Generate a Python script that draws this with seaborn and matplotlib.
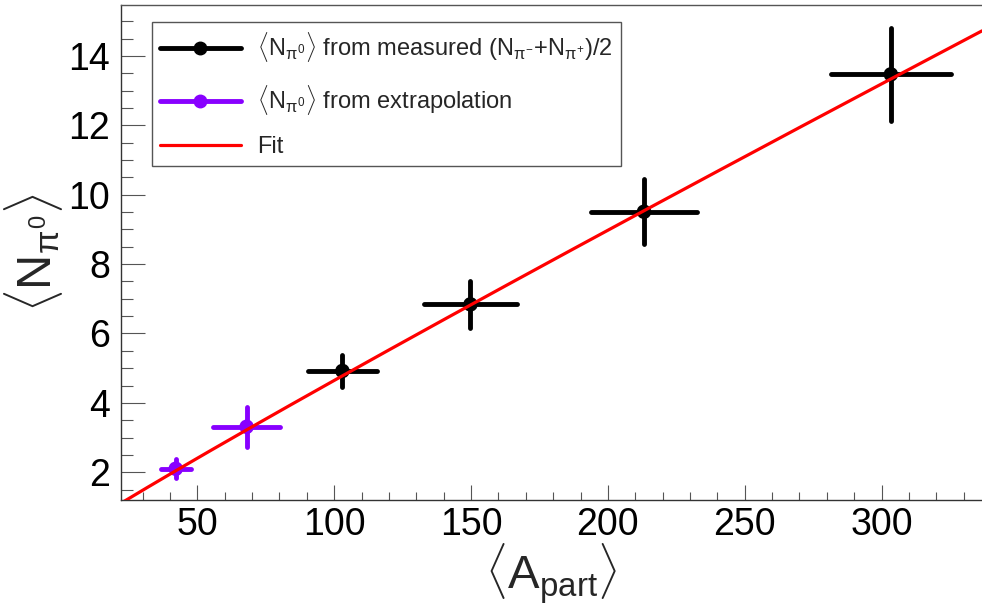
import numpy as np
import pandas as pd
import matplotlib
matplotlib.use("Agg")
import matplotlib.pyplot as plt
from matplotlib.lines import Line2D
from matplotlib.ticker import MultipleLocator
import seaborn as sns

# ---- data ----
meas_x = [103.0, 149.8, 213.2, 303.4]
meas_y = [4.92, 6.84, 9.51, 13.47]
meas_xerr = [12.7, 16.9, 19.5, 21.9]
meas_yerr = [0.47, 0.67, 0.93, 1.33]

extr_x = [42.1, 68.0]
extr_y = [2.10, 3.31]
extr_xerr = [5.4, 12.2]
extr_yerr = [0.27, 0.58]

# fit parameters: y = a * x^b
fit_a = 0.0585
fit_b = 0.95

x_ticks = [50, 100, 150, 200, 250, 300]
y_ticks = [2, 4, 6, 8, 10, 12, 14]

label_meas = r'$\langle$N$_{\pi^{0}}\rangle$ from measured (N$_{\pi^{-}}$+N$_{\pi^{+}}$)/2'
label_extr = r'$\langle$N$_{\pi^{0}}\rangle$ from extrapolation'
label_fit = 'Fit'

BLACK = '#000000'
PURPLE = '#8800ff'
RED = '#ff0000'
FRAME = '#555555'

sns.set_style("ticks")
plt.rcParams['font.family'] = ['Liberation Sans', 'DejaVu Sans']
plt.rcParams['mathtext.fontset'] = 'custom'
plt.rcParams['mathtext.rm'] = 'Liberation Sans'
plt.rcParams['mathtext.it'] = 'Liberation Sans'
plt.rcParams['mathtext.bf'] = 'Liberation Sans:bold'
plt.rcParams['mathtext.sf'] = 'Liberation Sans'

fig = plt.figure(figsize=(9.82, 6.09), dpi=100)
ax = fig.add_axes([121/982, 109/609, 1 - 121/982, 495/609])

xmin, xmax = 22.1, 336.7
ymin, ymax = 1.20, 15.47

# fit curve
fx = np.linspace(xmin, xmax, 300)
fit_df = pd.DataFrame({'x': fx, 'y': fit_a * fx ** fit_b})

meas_df = pd.DataFrame({'x': meas_x, 'y': meas_y})
extr_df = pd.DataFrame({'x': extr_x, 'y': extr_y})

for xs, ys, xe, ye, c in [(meas_x, meas_y, meas_xerr, meas_yerr, BLACK),
                          (extr_x, extr_y, extr_xerr, extr_yerr, PURPLE)]:
    eb = ax.errorbar(xs, ys, xerr=xe, yerr=ye, fmt='none', ecolor=c,
                     elinewidth=3.5, capsize=0, zorder=2)
    for lc in eb[2]:
        lc.set_capstyle('round')

sns.lineplot(data=fit_df, x='x', y='y', ax=ax, color=RED, lw=2.3,
             zorder=4, legend=False)
sns.scatterplot(data=meas_df, x='x', y='y', ax=ax, color=BLACK, s=110,
                edgecolor='none', zorder=3, legend=False)
sns.scatterplot(data=extr_df, x='x', y='y', ax=ax, color=PURPLE, s=110,
                edgecolor='none', zorder=3, legend=False)

ax.set_xlim(xmin, xmax)
ax.set_ylim(ymin, ymax)
ax.set_xticks(x_ticks)
ax.set_yticks(y_ticks)
ax.xaxis.set_minor_locator(MultipleLocator(10))
ax.yaxis.set_minor_locator(MultipleLocator(0.5))

ax.tick_params(axis='both', which='both', direction='in', colors=FRAME,
               labelcolor='black', width=0.8, top=False, right=False)
ax.tick_params(axis='x', which='major', length=10.8, labelsize=27, pad=5)
ax.tick_params(axis='x', which='minor', length=5.8)
ax.tick_params(axis='y', which='major', length=17.3, labelsize=27, pad=8)
ax.tick_params(axis='y', which='minor', length=8.6)

for s in ['left', 'bottom', 'top']:
    ax.spines[s].set_color(FRAME)
    ax.spines[s].set_linewidth(1.0)
ax.spines['right'].set_visible(False)
ax.spines['left'].set_color('#333333')
ax.spines['bottom'].set_color('#333333')

ax.set_xlabel(r'$\langle$A$_{\mathrm{part}}\rangle$', fontsize=34, labelpad=-1)
ax.set_ylabel(r'$\langle$N$_{\pi^{0}}\rangle$', fontsize=35, labelpad=2)

handles = [
    Line2D([0], [0], color=BLACK, lw=3.5, marker='o', markersize=9),
    Line2D([0], [0], color=PURPLE, lw=3.5, marker='o', markersize=9),
    Line2D([0], [0], color=RED, lw=2.3),
]
leg = ax.legend(handles, [label_meas, label_extr, label_fit],
                loc='upper left', bbox_to_anchor=(152/982, 1 - 22/609),
                bbox_transform=fig.transFigure, fontsize=17,
                frameon=True, fancybox=False, framealpha=1,
                edgecolor=FRAME, handlelength=3.4, handletextpad=0.7,
                labelspacing=0.8, borderpad=0.35, borderaxespad=0)
leg.get_frame().set_linewidth(1.0)

fig.savefig('out.png', dpi=100)
